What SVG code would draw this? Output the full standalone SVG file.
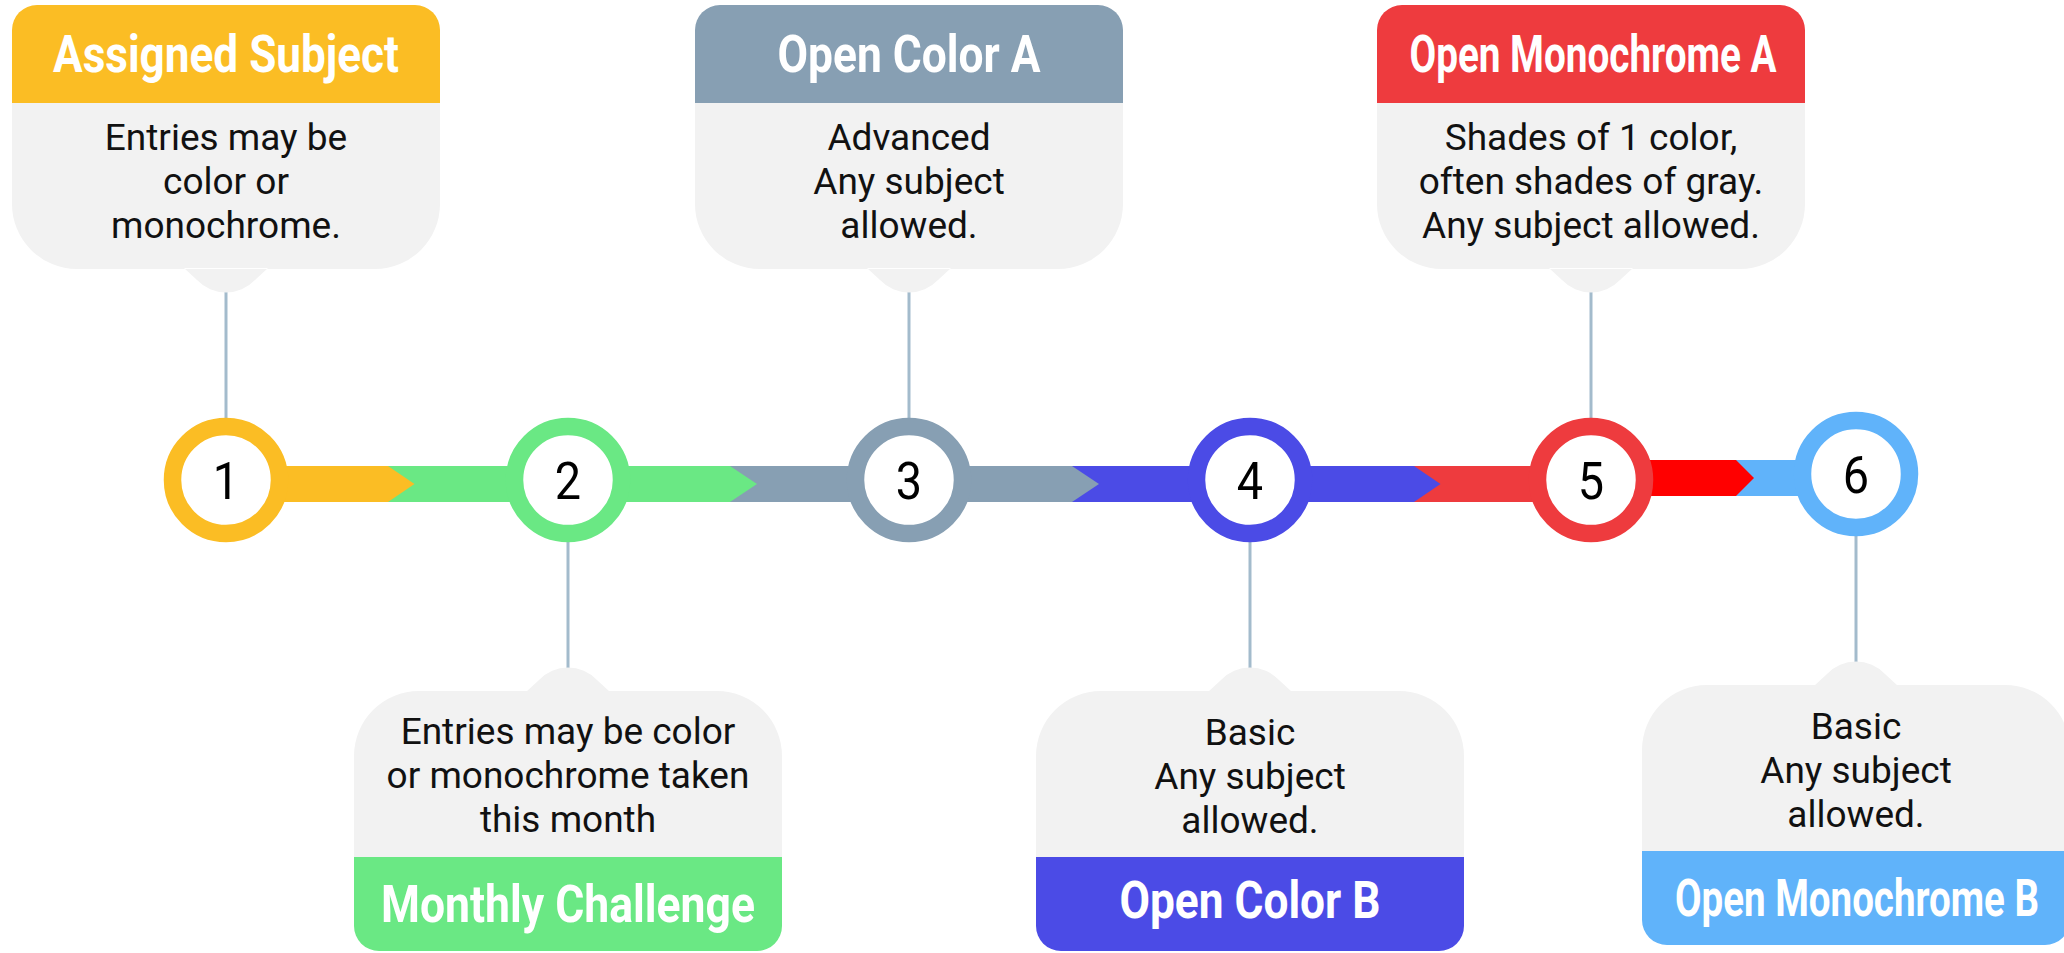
<svg xmlns="http://www.w3.org/2000/svg" xmlns:xlink="http://www.w3.org/1999/xlink" width="2064" height="953" viewBox="0 0 2064 953">
<style>
.body{fill:#F2F2F2}
.title{font-family:"Liberation Sans Narrow","Roboto","Liberation Sans",sans-serif;font-weight:700;font-size:52px;fill:#FFFFFF;text-anchor:middle}
.txt{font-family:"Roboto","Liberation Sans",sans-serif;font-size:37px;fill:#111111;text-anchor:middle}
.num{font-family:"Roboto","Liberation Sans",sans-serif;font-size:52px;fill:#000000;text-anchor:middle}
.ring{fill:#FFFFFF;stroke-width:17.5}
.vline{stroke:#A3BBCC;stroke-width:3;fill:none}
</style>
<defs>
<path id="topHead" d="M-214,98 V25 A25,25 0 0 1 -189,0 H189 A25,25 0 0 1 214,25 V98 Z"/>
<path id="topBody" d="M-214,97 H214 V199 A65,65 0 0 1 149,264 H-149 A65,65 0 0 1 -214,199 Z M-42,263 L-29,275 A40,40 0 0 0 29,275 L42,263 Z"/>
<path id="botBody" d="M-214,167 V65 A65,65 0 0 1 -149,0 H149 A65,65 0 0 1 214,65 V167 Z M-42,1 L-29,-11 A40,40 0 0 1 29,-11 L42,1 Z"/>
<path id="botHead" d="M-214,166 H214 V235 A25,25 0 0 1 189,260 H-189 A25,25 0 0 1 -214,235 Z"/>
</defs>
<rect width="2064" height="953" fill="#FFFFFF"/>

<g id="connectors">
  <polygon points="1736,460 1856,460 1856,496 1736,496" fill="#60B3FA"/>
  <polygon points="1591,460 1736,460 1754,478 1736,496 1591,496" fill="#FF0000"/>
  <polygon points="1414,466 1591,466 1591,502 1414,502" fill="#EE3B3E"/>
  <polygon points="1072,466 1414,466 1440.5,484 1414,502 1072,502" fill="#4B4BE6"/>
  <polygon points="730,466 1072,466 1099,484 1072,502 730,502" fill="#879FB3"/>
  <polygon points="388,466 730,466 757,484 730,502 388,502" fill="#6AE884"/>
  <polygon points="226,466 388,466 414.5,484 388,502 226,502" fill="#FBBD24"/>
  <line class="vline" x1="226" y1="291" x2="226" y2="420"/>
  <line class="vline" x1="568" y1="540" x2="568" y2="669"/>
  <line class="vline" x1="909" y1="291" x2="909" y2="420"/>
  <line class="vline" x1="1250" y1="540" x2="1250" y2="669"/>
  <line class="vline" x1="1591" y1="291" x2="1591" y2="420"/>
  <line class="vline" x1="1856" y1="535" x2="1856" y2="663"/>
</g>

<g id="box1">
  <use xlink:href="#topBody" class="body" transform="translate(226,5)"/>
  <use xlink:href="#topHead" fill="#FBBD24" transform="translate(226,5)"/>
  <text class="title" x="226" y="72" textLength="346" lengthAdjust="spacingAndGlyphs">Assigned Subject</text>
  <text class="txt" x="226" y="150">Entries may be</text>
  <text class="txt" x="226" y="194">color or</text>
  <text class="txt" x="226" y="238">monochrome.</text>
</g>
<g id="box3">
  <use xlink:href="#topBody" class="body" transform="translate(909,5)"/>
  <use xlink:href="#topHead" fill="#879FB3" transform="translate(909,5)"/>
  <text class="title" x="909" y="72" textLength="263" lengthAdjust="spacingAndGlyphs">Open Color A</text>
  <text class="txt" x="909" y="150">Advanced</text>
  <text class="txt" x="909" y="194">Any subject</text>
  <text class="txt" x="909" y="238">allowed.</text>
</g>
<g id="box5">
  <use xlink:href="#topBody" class="body" transform="translate(1591,5)"/>
  <use xlink:href="#topHead" fill="#EE3B3E" transform="translate(1591,5)"/>
  <text class="title" x="1593" y="72" textLength="367" lengthAdjust="spacingAndGlyphs">Open Monochrome A</text>
  <text class="txt" x="1591" y="150">Shades of 1 color,</text>
  <text class="txt" x="1591" y="194">often shades of gray.</text>
  <text class="txt" x="1591" y="238">Any subject allowed.</text>
</g>
<g id="box2">
  <use xlink:href="#botBody" class="body" transform="translate(568,691)"/>
  <use xlink:href="#botHead" fill="#6AE884" transform="translate(568,691)"/>
  <text class="txt" x="568" y="744">Entries may be color</text>
  <text class="txt" x="568" y="788">or monochrome taken</text>
  <text class="txt" x="568" y="832">this month</text>
  <text class="title" x="568" y="922" textLength="374" lengthAdjust="spacingAndGlyphs">Monthly Challenge</text>
</g>
<g id="box4">
  <use xlink:href="#botBody" class="body" transform="translate(1250,691)"/>
  <use xlink:href="#botHead" fill="#4B4BE6" transform="translate(1250,691)"/>
  <text class="txt" x="1250" y="745">Basic</text>
  <text class="txt" x="1250" y="789">Any subject</text>
  <text class="txt" x="1250" y="833">allowed.</text>
  <text class="title" x="1250" y="918" textLength="261" lengthAdjust="spacingAndGlyphs">Open Color B</text>
</g>
<g id="box6">
  <use xlink:href="#botBody" class="body" transform="translate(1856,685)"/>
  <use xlink:href="#botHead" fill="#60B3FA" transform="translate(1856,685)"/>
  <text class="txt" x="1856" y="739">Basic</text>
  <text class="txt" x="1856" y="783">Any subject</text>
  <text class="txt" x="1856" y="827">allowed.</text>
  <text class="title" x="1857" y="916" textLength="364" lengthAdjust="spacingAndGlyphs">Open Monochrome B</text>
</g>

<g id="step1"><circle class="ring" cx="226" cy="480" r="53.5" stroke="#FBBD24"/><text class="num" transform="translate(226,499) scale(0.9,1)">1</text></g>
<g id="step2"><circle class="ring" cx="568" cy="480" r="53.5" stroke="#6AE884"/><text class="num" transform="translate(568,499) scale(0.9,1)">2</text></g>
<g id="step3"><circle class="ring" cx="909" cy="480" r="53.5" stroke="#879FB3"/><text class="num" transform="translate(909,499) scale(0.9,1)">3</text></g>
<g id="step4"><circle class="ring" cx="1250" cy="480" r="53.5" stroke="#4B4BE6"/><text class="num" transform="translate(1250,499) scale(0.9,1)">4</text></g>
<g id="step5"><circle class="ring" cx="1591" cy="480" r="53.5" stroke="#EE3B3E"/><text class="num" transform="translate(1591,499) scale(0.9,1)">5</text></g>
<g id="step6"><circle class="ring" cx="1856" cy="474" r="53.5" stroke="#60B3FA"/><text class="num" transform="translate(1856,493) scale(0.9,1)">6</text></g>
</svg>
